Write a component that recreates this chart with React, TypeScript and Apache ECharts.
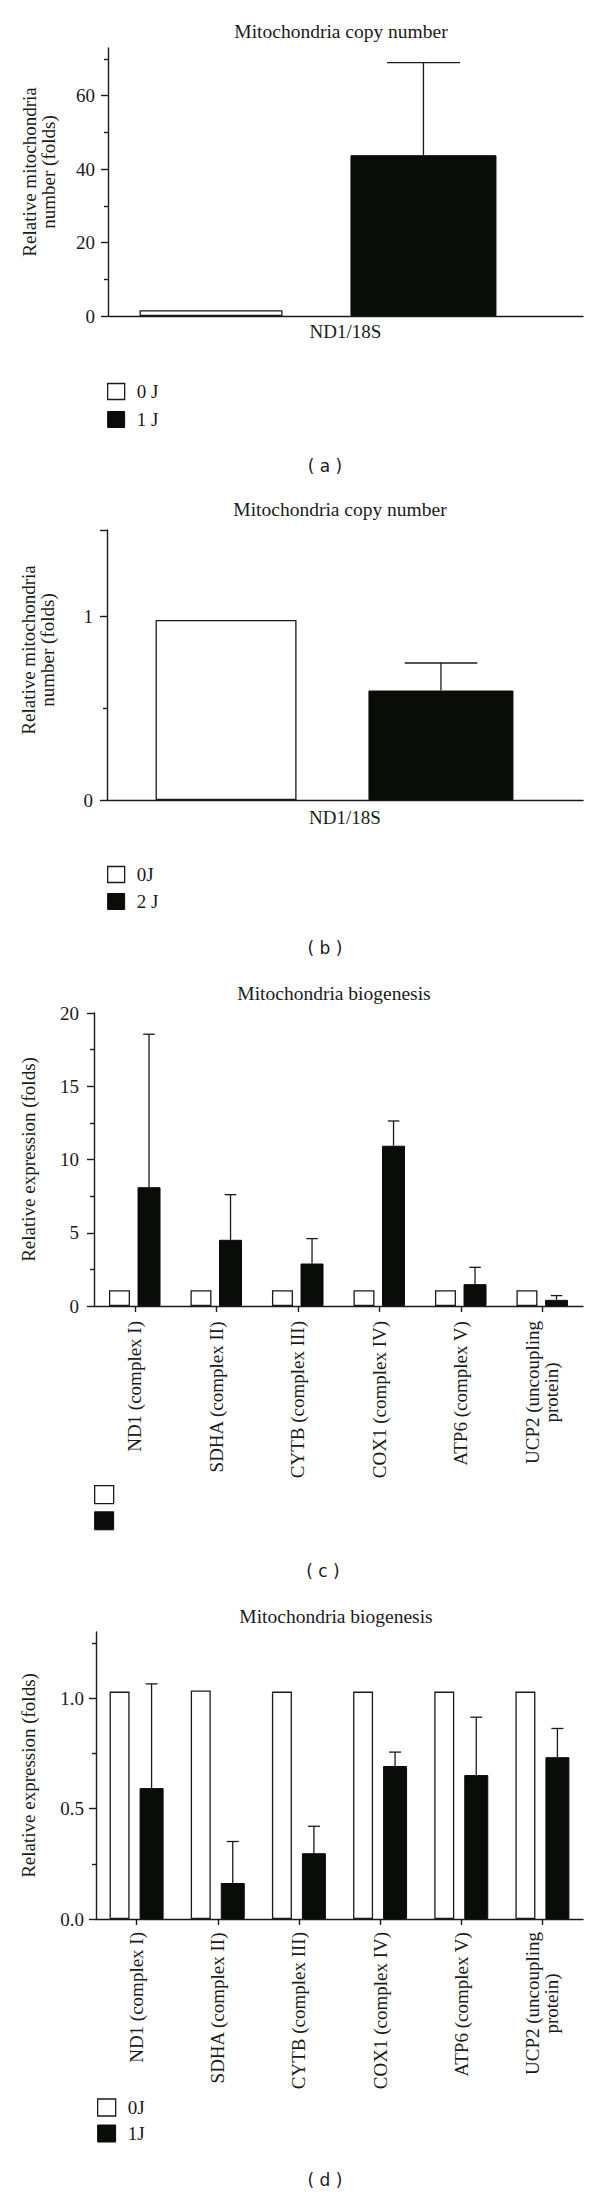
import React, { useEffect, useRef } from 'react';
import * as echarts from 'echarts';

// ---------- Panel (a) ----------
const catsA = ['ND1/18S'];
const a0J = [1.6];
const a1J = [43.8];
const a1Jsd = [25.2];
const yTicksA = [0, 20, 40, 60];

// ---------- Panel (b) ----------
const catsB = ['ND1/18S'];
const b0J = [0.98];
const b2J = [0.596];
const b2Jsd = [0.15];
const yTicksB = [0, 1];
const yMajorB = [0, 1, 1.47];

// ---------- Panel (c) ----------
const genes = [
  'ND1 (complex I)',
  'SDHA (complex II)',
  'CYTB (complex III)',
  'COX1 (complex IV)',
  'ATP6 (complex V)',
  'UCP2 (uncoupling\nprotein)',
];
const c0J = [1.08, 1.08, 1.08, 1.08, 1.08, 1.08];
const c1J = [8.11, 4.52, 2.9, 10.94, 1.49, 0.42];
const c1Jsd = [10.44, 3.08, 1.7, 1.69, 1.15, 0.29];
const yTicksC = [0, 5, 10, 15, 20];

// ---------- Panel (d) ----------
const d0J = [1.03, 1.035, 1.03, 1.03, 1.03, 1.03];
const d1J = [0.593, 0.163, 0.298, 0.693, 0.652, 0.733];
const d1Jsd = [0.472, 0.188, 0.122, 0.063, 0.262, 0.13];
const yTicksD = [0, 0.5, 1.0];

const SERIF = '"Liberation Serif", "Times New Roman", serif';
const SANS = '"DejaVu Sans", "Liberation Sans", sans-serif';
const AX = '#1a1a1a';
const BLACK = '#0a0c0a';

const axisLine = { show: true, onZero: true, lineStyle: { color: AX, width: 1.4 } };
const labelStyle = { color: AX, fontFamily: SERIF, fontSize: 19 };

function yAxisVisible(o: any) {
  const ax: any = {
    type: 'value',
    gridIndex: o.grid,
    min: 0,
    max: o.max,
    interval: o.interval,
    axisLine,
    splitLine: { show: false },
    axisTick: { show: true, length: 7, lineStyle: { color: AX, width: 1.4 } },
    minorTick: { show: true, splitNumber: 2, length: 4, lineStyle: { color: AX, width: 1.4 } },
    minorSplitLine: { show: false },
    axisLabel: { ...labelStyle, margin: o.margin },
    name: o.name,
    nameLocation: 'middle',
    nameRotate: 90,
    nameGap: o.nameGap,
    nameTextStyle: { ...labelStyle, lineHeight: 19, padding: o.namePad || 0 },
  };
  if (o.ticks) ax.axisTick.customValues = o.ticks;
  if (o.labels) ax.axisLabel.customValues = o.labels;
  if (o.fmt) ax.axisLabel.formatter = o.fmt;
  return ax;
}

function hiddenY(grid: number, max: number) {
  return { type: 'value', gridIndex: grid, min: 0, max, show: false, splitLine: { show: false } };
}

function whiteBar(name: string, xi: number, data: number[], width: number, gap: string) {
  return {
    type: 'bar', name, xAxisIndex: xi, yAxisIndex: xi, data, barWidth: width, barGap: gap,
    itemStyle: { color: '#ffffff', borderColor: AX, borderWidth: 1.3 },
    silent: true,
  };
}
function blackBar(name: string, xi: number, data: number[], width: number, gap: string) {
  return {
    type: 'bar', name, xAxisIndex: xi, yAxisIndex: xi, data, barWidth: width, barGap: gap,
    itemStyle: { color: BLACK, borderColor: BLACK, borderWidth: 1 },
    silent: true,
  };
}

function errorSeries(xi: number, means: number[], sds: number[], wW: number, bW: number, gapPct: number) {
  return {
    type: 'custom',
    xAxisIndex: xi,
    yAxisIndex: xi,
    silent: true,
    z: 3,
    data: means.map((m, i) => [i, m, m + sds[i]]),
    encode: { x: 0, y: [1, 2] },
    renderItem: (params: any, api: any) => {
      const idx = api.value(0);
      const base = api.coord([idx, api.value(1)]);
      const top = api.coord([idx, api.value(2)]);
      const gap = wW * gapPct;
      const group = wW + gap + bW;
      const x = base[0] - group / 2 + wW + gap + bW / 2;
      const half = bW / 4;
      const st = { stroke: AX, lineWidth: 1.3 };
      return {
        type: 'group',
        children: [
          { type: 'line', shape: { x1: x, y1: base[1], x2: x, y2: top[1] }, style: st },
          { type: 'line', shape: { x1: x - half, y1: top[1], x2: x + half, y2: top[1] }, style: st },
        ],
      };
    },
  };
}

function legendBlock(names: string[], left: number, top: number, w: number, h: number, gap: number, showText: boolean) {
  return {
    orient: 'vertical',
    left,
    top,
    padding: 0,
    itemWidth: w,
    itemHeight: h,
    itemGap: gap,
    icon: 'rect',
    selectedMode: false,
    formatter: showText ? (n: string) => n : () => '',
    textStyle: { ...labelStyle, lineHeight: h, padding: [0, 0, 0, 7] },
    data: [
      { name: names[0], itemStyle: { color: '#ffffff', borderColor: AX, borderWidth: 1.3 } },
      { name: names[1], itemStyle: { color: BLACK, borderColor: BLACK, borderWidth: 1 } },
    ],
  };
}

function catAxisRot(grid: number, margin: number) {
  return {
    type: 'category',
    gridIndex: grid,
    data: genes,
    axisLine,
    axisTick: { show: true, alignWithLabel: true, length: 6, lineStyle: { color: AX, width: 1.4 } },
    axisLabel: {
      rotate: 90,
      interval: 0,
      margin,
      ...labelStyle,
      lineHeight: 19,
      formatter: (v: string) => v.split('\n').map((l) => `{c|${l}}`).join('\n'),
      rich: { c: { ...labelStyle, lineHeight: 19, align: 'center' } },
    },
  };
}

function buildOption(): any {
  const textEl = (text: string, x: number, y: number, font: string, size: number) => ({
    type: 'text',
    x,
    y,
    silent: true,
    style: { text, fill: AX, fontFamily: font, fontSize: size, textAlign: 'center', textVerticalAlign: 'middle' },
  });

  return {
    animation: false,
    backgroundColor: '#ffffff',
    grid: [
      { left: 108, top: 48, width: 475, height: 268, outerBoundsMode: 'none' },
      { left: 108, top: 48, width: 420, height: 268, outerBoundsMode: 'none' },
      { left: 107, top: 530, width: 476, height: 270, outerBoundsMode: 'none' },
      { left: 107, top: 530, width: 455, height: 270, outerBoundsMode: 'none' },
      { left: 94, top: 1013, width: 489, height: 293, outerBoundsMode: 'none' },
      { left: 96, top: 1632, width: 487, height: 287, outerBoundsMode: 'none' },
    ],
    xAxis: [
      { type: 'category', gridIndex: 0, data: catsA, axisLine, axisTick: { show: false }, axisLabel: { ...labelStyle, margin: 6 } },
      { type: 'category', gridIndex: 1, data: catsA, show: false },
      { type: 'category', gridIndex: 2, data: catsB, axisLine, axisTick: { show: false }, axisLabel: { ...labelStyle, margin: 8 } },
      { type: 'category', gridIndex: 3, data: catsB, show: false },
      catAxisRot(4, 15),
      catAxisRot(5, 13),
    ],
    yAxis: [
      yAxisVisible({ grid: 0, max: 73, interval: 20, ticks: yTicksA, labels: yTicksA, name: 'Relative mitochondria\nnumber (folds)', nameGap: 50, namePad: [0, 0, 0, 20], margin: 13 }),
      hiddenY(1, 73),
      yAxisVisible({ grid: 2, max: 1.47, interval: 1, ticks: yMajorB, labels: yTicksB, name: 'Relative mitochondria\nnumber (folds)', nameGap: 50, namePad: [0, 0, 0, 30], margin: 14 }),
      hiddenY(3, 1.47),
      yAxisVisible({ grid: 4, max: 20, interval: 5, ticks: yTicksC, labels: yTicksC, name: 'Relative expression (folds)', nameGap: 56, margin: 15 }),
      yAxisVisible({ grid: 5, max: 1.3, interval: 0.5, ticks: yTicksD, labels: yTicksD, name: 'Relative expression (folds)', nameGap: 58, margin: 12, fmt: (v: number) => v.toFixed(1) }),
    ],
    legend: [
      legendBlock(['0 J', '1 J'], 107, 382, 17, 16, 9, true),
      legendBlock(['0J', '2 J'], 107, 865, 17, 16, 8, true),
      legendBlock(['0 J', '1 J'], 94, 1485, 19, 18, 7, false),
      legendBlock(['0J', '1J'], 97, 2098, 18, 17, 7, true),
    ],
    graphic: [
      textEl('Mitochondria copy number', 341, 31, SERIF, 19.5),
      textEl('Mitochondria copy number', 340, 509, SERIF, 19.5),
      textEl('Mitochondria biogenesis', 334, 993, SERIF, 19.5),
      textEl('Mitochondria biogenesis', 336, 1616, SERIF, 19.5),
      textEl('( a )', 325, 466, SANS, 17),
      textEl('( b )', 325, 948, SANS, 17),
      textEl('( c )', 323, 1571, SANS, 17),
      textEl('( d )', 325, 2180, SANS, 17),
    ],
    series: [
      whiteBar('0 J', 1, a0J, 143, '47.5%'),
      blackBar('1 J', 1, a1J, 146, '47.5%'),
      errorSeries(1, a1J, a1Jsd, 143, 146, 0.475),

      whiteBar('0J', 3, b0J, 141, '51%'),
      blackBar('2 J', 3, b2J, 145, '51%'),
      errorSeries(3, b2J, b2Jsd, 141, 145, 0.51),

      whiteBar('0 J', 4, c0J, 21, '36%'),
      blackBar('1 J', 4, c1J, 23, '36%'),
      errorSeries(4, c1J, c1Jsd, 21, 23, 0.36),

      whiteBar('0J', 5, d0J, 20, '50%'),
      blackBar('1J', 5, d1J, 24, '50%'),
      errorSeries(5, d1J, d1Jsd, 20, 24, 0.5),
    ],
  };
}

export default function App() {
  const ref = useRef<HTMLDivElement>(null);
  useEffect(() => {
    document.body.style.margin = '0';
    const chart = echarts.init(ref.current as HTMLDivElement, null, { renderer: 'svg' });
    chart.setOption(buildOption());
    return () => chart.dispose();
  }, []);
  return <div ref={ref} style={{ width: 600, height: 2196, background: '#fff' }} />;
}
